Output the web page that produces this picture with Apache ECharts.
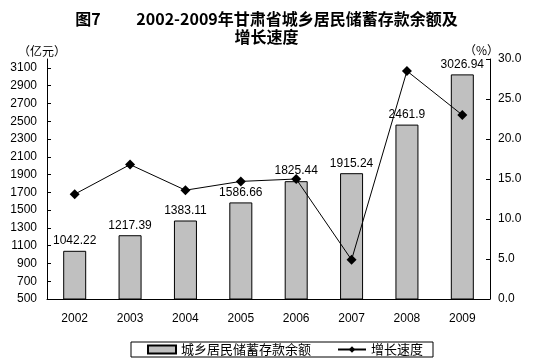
<!DOCTYPE html>
<html>
<head>
<meta charset="utf-8">
<script src="https://cdn.jsdelivr.net/npm/echarts@6/dist/echarts.min.js"></script>
<style>html,body{margin:0;padding:0;background:#fff}#c{width:533px;height:363px}</style>
</head>
<body>
<div id="c"></div>
<script>
var categories = ['2002','2003','2004','2005','2006','2007','2008','2009'];
var deposits = [1042.22, 1217.39, 1383.11, 1586.66, 1825.44, 1915.24, 2461.9, 3026.94];
var growth = [13.1, 16.8, 13.6, 14.7, 15.0, 4.9, 28.5, 23.0];
var leftTicks = [500,700,900,1100,1300,1500,1700,1900,2100,2300,2500,2700,2900,3100];
var rightTicks = [0,5,10,15,20,25,30];
var barName = '城乡居民储蓄存款余额';
var lineName = '增长速度';

var chart = echarts.init(document.getElementById('c'));
var fontLatin = 'Liberation Sans, Arial, sans-serif';
var fontCJK = '"Noto Sans CJK SC", sans-serif';
chart.setOption({
  animation: false,
  backgroundColor: '#fff',
  title: {
    text: '图7\u3000\u3000 2002-2009年甘肃省城乡居民储蓄存款余额及\n增长速度',
    left: 'center',
    top: 5,
    textStyle: { fontFamily: fontCJK, fontSize: 16, fontWeight: 'bold', color: '#000', lineHeight: 18, align: 'center' }
  },
  graphic: [
    { type: 'text', left: 18, top: 45, style: { text: '（亿元）', fontFamily: fontCJK, fontSize: 12, fill: '#000' } },
    { type: 'text', left: 464, top: 44, style: { text: '（%）', fontFamily: fontCJK, fontSize: 12, fill: '#000' } }
  ],
  legend: {
    bottom: 6,
    left: 131,
    borderColor: '#000',
    borderWidth: 1,
    padding: [1, 10, 1, 16],
    itemGap: 26,
    itemWidth: 28,
    itemHeight: 8,
    textStyle: { fontFamily: fontCJK, fontSize: 13, color: '#000' },
    data: [
      { name: barName, icon: 'rect' },
      { name: lineName }
    ]
  },
  grid: { left: 47, right: 43, top: 59, bottom: 64 },
  xAxis: {
    type: 'category',
    data: categories,
    boundaryGap: true,
    axisLine: { lineStyle: { color: '#000', width: 1 } },
    axisTick: { inside: true, length: 4, lineStyle: { color: '#000' } },
    axisLabel: { color: '#000', fontFamily: fontLatin, fontSize: 12, margin: 14 }
  },
  yAxis: [
    {
      type: 'value', min: 500, max: 3200, interval: 200,
      axisLine: { show: true, lineStyle: { color: '#000' } },
      axisTick: { show: true, inside: true, length: 4, lineStyle: { color: '#000' }, customValues: leftTicks },
      axisLabel: { color: '#000', fontFamily: fontLatin, fontSize: 12, margin: 10, customValues: leftTicks,
        formatter: function (v) { return String(v); } },
      splitLine: { show: false }
    },
    {
      type: 'value', min: 0, max: 30, interval: 5,
      axisLine: { show: true, lineStyle: { color: '#000' } },
      axisTick: { show: true, inside: true, length: 4, lineStyle: { color: '#000' }, customValues: rightTicks },
      axisLabel: { color: '#000', fontFamily: fontLatin, fontSize: 12, margin: 8, customValues: rightTicks,
        formatter: function (v) { return v.toFixed(1); } },
      splitLine: { show: false }
    }
  ],
  series: [
    {
      name: barName,
      type: 'bar',
      yAxisIndex: 0,
      data: deposits,
      barWidth: 23,
      itemStyle: { color: '#C0C0C0', borderColor: '#000', borderWidth: 1 },
      label: { show: true, position: 'top', distance: 4, color: '#000', fontFamily: fontLatin, fontSize: 12,
        formatter: function (p) { return String(p.value); } }
    },
    {
      name: lineName,
      type: 'line',
      yAxisIndex: 1,
      data: growth,
      symbol: 'diamond',
      symbolSize: 10,
      lineStyle: { color: '#000', width: 1 },
      itemStyle: { color: '#000' },
      z: 5
    }
  ]
});
</script>
</body>
</html>
